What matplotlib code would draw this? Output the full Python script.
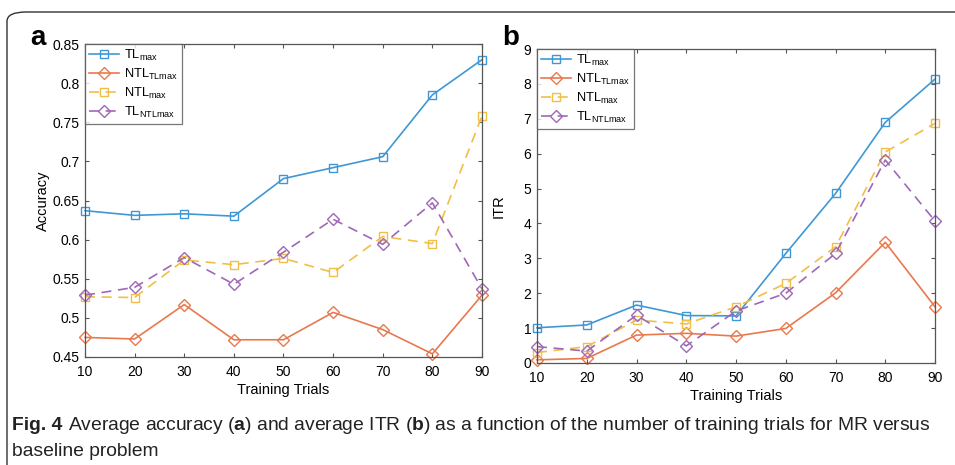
import matplotlib.pyplot as plt
from matplotlib.patches import FancyBboxPatch

trials = [10, 20, 30, 40, 50, 60, 70, 80, 90]

# accuracy (panel a)
acc_tl_max = [0.637, 0.631, 0.633, 0.630, 0.678, 0.692, 0.706, 0.785, 0.830]
acc_ntl_tlmax = [0.475, 0.473, 0.517, 0.472, 0.472, 0.507, 0.485, 0.454, 0.529]
acc_ntl_max = [0.527, 0.526, 0.574, 0.568, 0.576, 0.558, 0.604, 0.595, 0.758]
acc_tl_ntlmax = [0.529, 0.539, 0.577, 0.543, 0.584, 0.626, 0.594, 0.647, 0.537]

# ITR (panel b)
itr_tl_max = [1.01, 1.09, 1.66, 1.36, 1.35, 3.14, 4.86, 6.90, 8.14]
itr_ntl_tlmax = [0.09, 0.13, 0.80, 0.85, 0.77, 0.99, 2.01, 3.46, 1.61]
itr_ntl_max = [0.30, 0.47, 1.23, 1.12, 1.61, 2.28, 3.33, 6.05, 6.87]
itr_tl_ntlmax = [0.47, 0.34, 1.37, 0.49, 1.49, 2.00, 3.14, 5.82, 4.07]

labels = [r"TL$_{\mathrm{max}}$", r"NTL$_{\mathrm{TLmax}}$",
          r"NTL$_{\mathrm{max}}$", r"TL$_{\mathrm{NTLmax}}$"]
colors = ["#3f98d4", "#e8794f", "#f0bf48", "#9f68b6"]
markers = ["s", "D", "s", "D"]
styles = ["-", "-", "--", "--"]

plt.rcParams["font.family"] = ["Liberation Sans", "DejaVu Sans"]
plt.rcParams["mathtext.fontset"] = "custom"
plt.rcParams["mathtext.rm"] = "Liberation Sans"
plt.rcParams["mathtext.bf"] = "Liberation Sans:bold"
plt.rcParams["mathtext.default"] = "regular"

fig = plt.figure(figsize=(9.55, 4.65), dpi=100)

frame = FancyBboxPatch((7 / 955, -0.05), 1.2, 1.05 - 12 / 465,
                       boxstyle="round,pad=0,rounding_size=0.02",
                       transform=fig.transFigure, fill=False,
                       edgecolor="#333333", linewidth=1.0)
fig.patches.append(frame)

ax_a = fig.add_axes([0.089, 0.2323, 0.4157, 0.673])
ax_b = fig.add_axes([0.5623, 0.2194, 0.4168, 0.675])


def draw(ax, series, ylim, yticks, ylabel, ylab_x):
    for vals, lab, c, m, ls in zip(series, labels, colors, markers, styles):
        ax.plot(trials, vals, linestyle=ls, color=c, marker=m,
                markersize=5.5 if m == "s" else 6, markerfacecolor="none",
                markeredgewidth=1.0, linewidth=1.2, label=lab,
                dashes=(6, 4) if ls == "--" else (None, None), clip_on=False)
    ax.set_xlim(10, 90)
    ax.set_ylim(*ylim)
    ax.set_xticks(trials)
    ax.set_yticks(yticks)
    ax.tick_params(direction="in", top=True, right=True, labelsize=10,
                   length=3, color="#555555")
    ax.tick_params(axis="x", pad=6)
    ax.tick_params(axis="y", pad=4)
    for sp in ax.spines.values():
        sp.set_color("#555555")
        sp.set_linewidth(0.9)
    ax.set_xlabel("Training Trials", fontsize=10.5, labelpad=3)
    ax.set_ylabel(ylabel, fontsize=10.5)
    ax.yaxis.set_label_coords(ylab_x, 0.5)
    leg = ax.legend(loc="upper left", fontsize=9.3, frameon=True, fancybox=False,
                    borderaxespad=0, handlelength=2.3, handletextpad=0.4,
                    borderpad=0.3, labelspacing=0.3)
    leg.get_frame().set_edgecolor("#555555")
    leg.get_frame().set_linewidth(0.9)


draw(ax_a, [acc_tl_max, acc_ntl_tlmax, acc_ntl_max, acc_tl_ntlmax],
     (0.45, 0.85), [0.45, 0.5, 0.55, 0.6, 0.65, 0.7, 0.75, 0.8, 0.85],
     "Accuracy", -0.088)
ax_a.set_yticklabels(["0.45", "0.5", "0.55", "0.6", "0.65", "0.7",
                      "0.75", "0.8", "0.85"])
draw(ax_b, [itr_tl_max, itr_ntl_tlmax, itr_ntl_max, itr_tl_ntlmax],
     (0, 9), list(range(10)), "ITR", -0.080)

fig.text(30 / 955, 1 - 38 / 465, "a", fontsize=20, fontweight="bold",
         va="center", ha="left")
fig.text(502 / 955, 1 - 38 / 465, "b", fontsize=20, fontweight="bold",
         va="center", ha="left")

y1 = 1 - 425 / 465
fig.text(12 / 955, y1, "Fig. 4", fontsize=13.9, fontweight="bold",
         va="center", color="#222222")
fig.text(68 / 955, y1,
         r"Average accuracy ($\mathbf{a}$) and average ITR ($\mathbf{b}$) as "
         "a function of the number of training trials for MR versus",
         fontsize=13.9, va="center", color="#222222")
fig.text(12 / 955, 1 - 451 / 465, "baseline problem", fontsize=13.9,
         va="center", color="#222222")

fig.savefig("out.png", dpi=100)
